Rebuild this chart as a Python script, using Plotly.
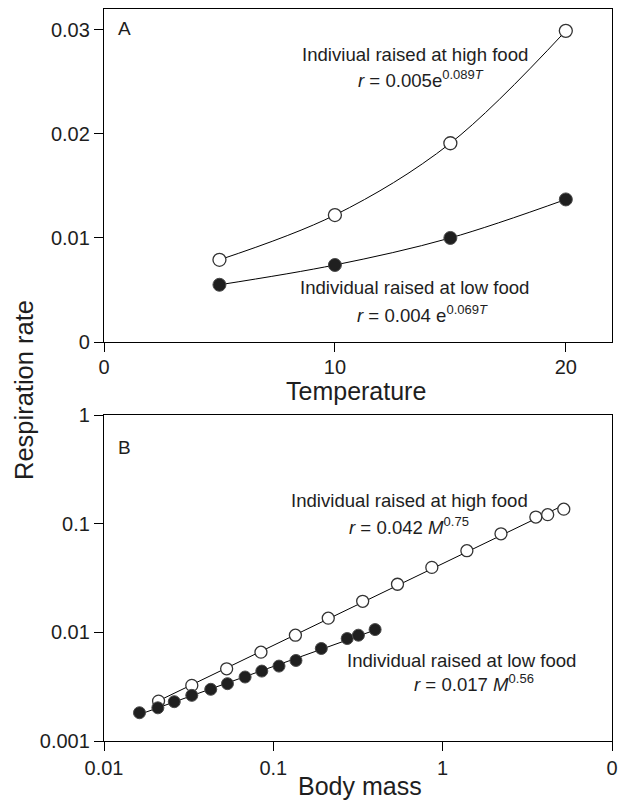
import numpy as np
import plotly.graph_objects as go

# ---------------- Data ----------------
# Panel A: respiration rate vs temperature
temp = [5, 10, 15, 20]
resp_high_food = [0.0079, 0.0122, 0.0191, 0.0299]
resp_low_food = [0.0055, 0.0074, 0.0100, 0.0137]

# Panel B: respiration rate vs body mass (log-log)
mass_high = [0.021, 0.033, 0.053, 0.0845, 0.135, 0.211, 0.337, 0.541, 0.863,
             1.39, 2.21, 3.55, 4.17, 5.19]
resp_high = [0.00233, 0.00325, 0.00462, 0.00657, 0.00941, 0.0135, 0.0193,
             0.0277, 0.0396, 0.0564, 0.0807, 0.115, 0.121, 0.136]
mass_low = [0.0162, 0.0208, 0.0260, 0.0330, 0.0427, 0.0536, 0.0681, 0.0855,
            0.108, 0.136, 0.192, 0.273, 0.318, 0.399]
resp_low = [0.00182, 0.00202, 0.00230, 0.00263, 0.00299, 0.00337, 0.00388,
            0.00440, 0.00489, 0.00551, 0.00710, 0.00877, 0.00941, 0.0106]

a_xticks = [0, 10, 20]
a_yticks = [0, 0.01, 0.02, 0.03]
a_yticklabels = ["0", "0.01", "0.02", "0.03"]
b_xticks = [0.01, 0.1, 1, 10]
b_xticklabels = ["0.01", "0.1", "1", "0"]
b_yticks = [0.001, 0.01, 0.1, 1]
b_yticklabels = ["0.001", "0.01", "0.1", "1"]

FONT = "Liberation Sans, Arial, Helvetica, sans-serif"
INK = "#1e1e1e"
W, H = 628, 803


def px(x):
    return x / W


def py(y):
    return 1 - y / H


fig = go.Figure()

open_marker = dict(symbol="circle", size=13, color="white",
                   line=dict(color="#333333", width=1.3))
filled_marker = dict(symbol="circle", size=13, color="#1f1f1f",
                     line=dict(color="#4a4a4a", width=1))

# Panel A curves (smooth through the points) + markers
fig.add_trace(go.Scatter(x=temp, y=resp_high_food, mode="lines",
                         line=dict(color="black", width=1, shape="spline", smoothing=1.0),
                         xaxis="x", yaxis="y", showlegend=False, hoverinfo="skip"))
fig.add_trace(go.Scatter(x=temp, y=resp_low_food, mode="lines",
                         line=dict(color="black", width=1, shape="spline", smoothing=1.0),
                         xaxis="x", yaxis="y", showlegend=False, hoverinfo="skip"))
fig.add_trace(go.Scatter(x=temp, y=resp_high_food, mode="markers", marker=open_marker,
                         xaxis="x", yaxis="y", showlegend=False))
fig.add_trace(go.Scatter(x=temp, y=resp_low_food, mode="markers", marker=filled_marker,
                         xaxis="x", yaxis="y", showlegend=False))


# Panel B: least-squares power-law fits computed from the data
def fit_line(xs, ys):
    lx, ly = np.log10(xs), np.log10(ys)
    b, a = np.polyfit(lx, ly, 1)
    xe = np.array([min(xs), max(xs)])
    return xe, 10 ** (a + b * np.log10(xe))


fxh, fyh = fit_line(mass_high, resp_high)
fxl, fyl = fit_line(mass_low, resp_low)
fig.add_trace(go.Scatter(x=fxh, y=fyh, mode="lines", line=dict(color="black", width=1),
                         xaxis="x2", yaxis="y2", showlegend=False, hoverinfo="skip"))
fig.add_trace(go.Scatter(x=fxl, y=fyl, mode="lines", line=dict(color="black", width=1),
                         xaxis="x2", yaxis="y2", showlegend=False, hoverinfo="skip"))
mk_b_open = dict(open_marker, size=12)
mk_b_fill = dict(filled_marker, size=12)
fig.add_trace(go.Scatter(x=mass_high, y=resp_high, mode="markers", marker=mk_b_open,
                         xaxis="x2", yaxis="y2", showlegend=False))
fig.add_trace(go.Scatter(x=mass_low, y=resp_low, mode="markers", marker=mk_b_fill,
                         xaxis="x2", yaxis="y2", showlegend=False))

axis_common = dict(showline=True, linecolor="black", linewidth=1.3, mirror=True,
                   ticks="outside", ticklen=9, tickwidth=1, tickcolor="black",
                   showgrid=False, zeroline=False, automargin=False,
                   tickfont=dict(family=FONT, size=20, color=INK))

xdom = [px(104), px(612)]
fig.update_layout(
    width=W, height=H,
    margin=dict(l=0, r=0, t=0, b=0, pad=0, autoexpand=False),
    paper_bgcolor="white", plot_bgcolor="white",
    font=dict(family=FONT, color=INK),
    xaxis=dict(axis_common, domain=xdom, range=[0, 22], tickvals=a_xticks,
               anchor="y", ticklabelstandoff=-2),
    yaxis=dict(axis_common, domain=[py(342), py(9)], range=[0, 0.032],
               tickvals=a_yticks, ticktext=a_yticklabels, anchor="x"),
    xaxis2=dict(axis_common, domain=xdom, type="log", range=[-2, 1],
                tickvals=b_xticks, ticktext=b_xticklabels, anchor="y2"),
    yaxis2=dict(axis_common, domain=[py(741), py(415)], type="log", range=[-3, 0],
                tickvals=b_yticks, ticktext=b_yticklabels, anchor="x2"),
)

ann = []


def label(text, x, y, size, **kw):
    d = dict(text=text, x=px(x), y=py(y), xref="paper", yref="paper",
             showarrow=False, xanchor="center", yanchor="middle",
             font=dict(family=FONT, size=size, color=INK))
    d.update(kw)
    ann.append(d)


# Panel letters
label("A", 124, 28, 19)
label("B", 124, 447, 19)
# Axis titles
label("Temperature", 356, 391, 25)
label("Body mass", 360, 786, 25)
label("Respiration rate", 24, 390, 25.5, textangle=-90)
# Panel A annotations
label("Indiviual raised at high food", 415, 54, 18.6)
label("<i>r</i> = 0.005e<sup>0.089<i>T</i></sup>", 421, 79, 18.6)
label("Individual raised at low food", 414, 287, 18.6)
label("<i>r</i> = 0.004 e<sup>0.069<i>T</i></sup>", 422, 314, 18.6)
# Panel B annotations
label("Individual raised at high food", 409, 500, 18.6)
label("<i>r</i> = 0.042 <i>M</i><sup>0.75</sup>", 409, 526, 18.6)
label("Individual raised at low food", 462, 660, 18.6)
label("<i>r</i> = 0.017 <i>M</i><sup>0.56</sup>", 474, 683, 18.6)

fig.update_layout(annotations=ann)
fig.write_html("out.html")
